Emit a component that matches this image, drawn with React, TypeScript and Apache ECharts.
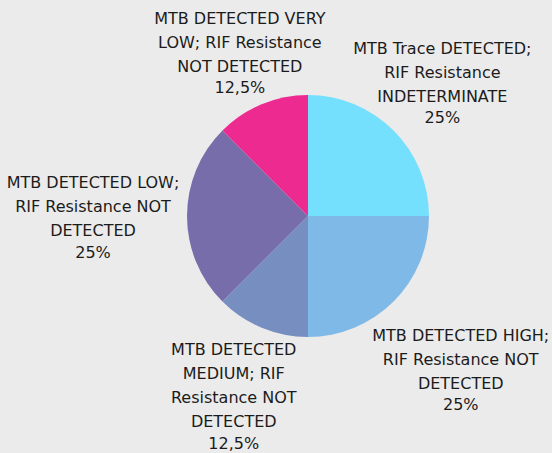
import React, { useEffect, useRef } from "react";
import * as echarts from "echarts";

const categories = [
  "MTB Trace DETECTED;\nRIF Resistance\nINDETERMINATE",
  "MTB DETECTED HIGH;\nRIF Resistance NOT\nDETECTED",
  "MTB DETECTED\nMEDIUM; RIF\nResistance NOT\nDETECTED",
  "MTB DETECTED LOW;\nRIF Resistance NOT\nDETECTED",
  "MTB DETECTED VERY\nLOW; RIF Resistance\nNOT DETECTED",
];
const values = [25, 25, 12.5, 25, 12.5];
const colors = ["#75DFFE", "#7EB9E7", "#778EC0", "#776DAB", "#EC2A8F"];
// distance of each label block centre from the pie centre (layout)
const labelDistances = [190, 216, 194, 215, 178];

const CX = 308;
const CY = 216;
const R = 121;
const FONT = "DejaVu Sans";

export default function App() {
  const ref = useRef<HTMLDivElement>(null);
  useEffect(() => {
    if (!ref.current) return;
    const chart = echarts.init(ref.current, null, { renderer: "svg" });
    const total = values.reduce((a, b) => a + b, 0);
    const mids: number[] = [];
    let cum = 0;
    values.forEach((v) => {
      mids.push(90 - (360 * (cum + v / 2)) / total);
      cum += v;
    });
    chart.setOption({
      animation: false,
      backgroundColor: "#ebebeb",
      textStyle: { fontFamily: FONT },
      series: [
        {
          type: "pie",
          center: [CX, CY],
          radius: [0, R],
          startAngle: 90,
          clockwise: true,
          avoidLabelOverlap: false,
          itemStyle: { borderWidth: 0 },
          labelLine: { show: false },
          label: {
            show: true,
            position: "outside",
            formatter: (p: any) =>
              `{n|${p.name}}\n{p|${String(p.percent).replace(".", ",")}%}`,
            rich: {
              n: {
                fontFamily: FONT,
                fontSize: 16,
                lineHeight: 24,
                color: "#1b1b1b",
                align: "center",
              },
              p: {
                fontFamily: FONT,
                fontSize: 16,
                lineHeight: 19,
                color: "#1b1b1b",
                align: "center",
              },
            },
          },
          labelLayout: (params: any) => {
            const i = params.dataIndex;
            const a = (mids[i] * Math.PI) / 180;
            const d = labelDistances[i];
            return {
              x: CX + d * Math.cos(a),
              y: CY - d * Math.sin(a),
              align: "center",
              verticalAlign: "middle",
            };
          },
          data: categories.map((c, i) => ({
            name: c,
            value: values[i],
            itemStyle: { color: colors[i] },
          })),
        },
      ],
    });
    return () => chart.dispose();
  }, []);
  return (
    <div
      ref={ref}
      style={{ position: "absolute", left: 0, top: 0, width: 552, height: 453 }}
    />
  );
}
